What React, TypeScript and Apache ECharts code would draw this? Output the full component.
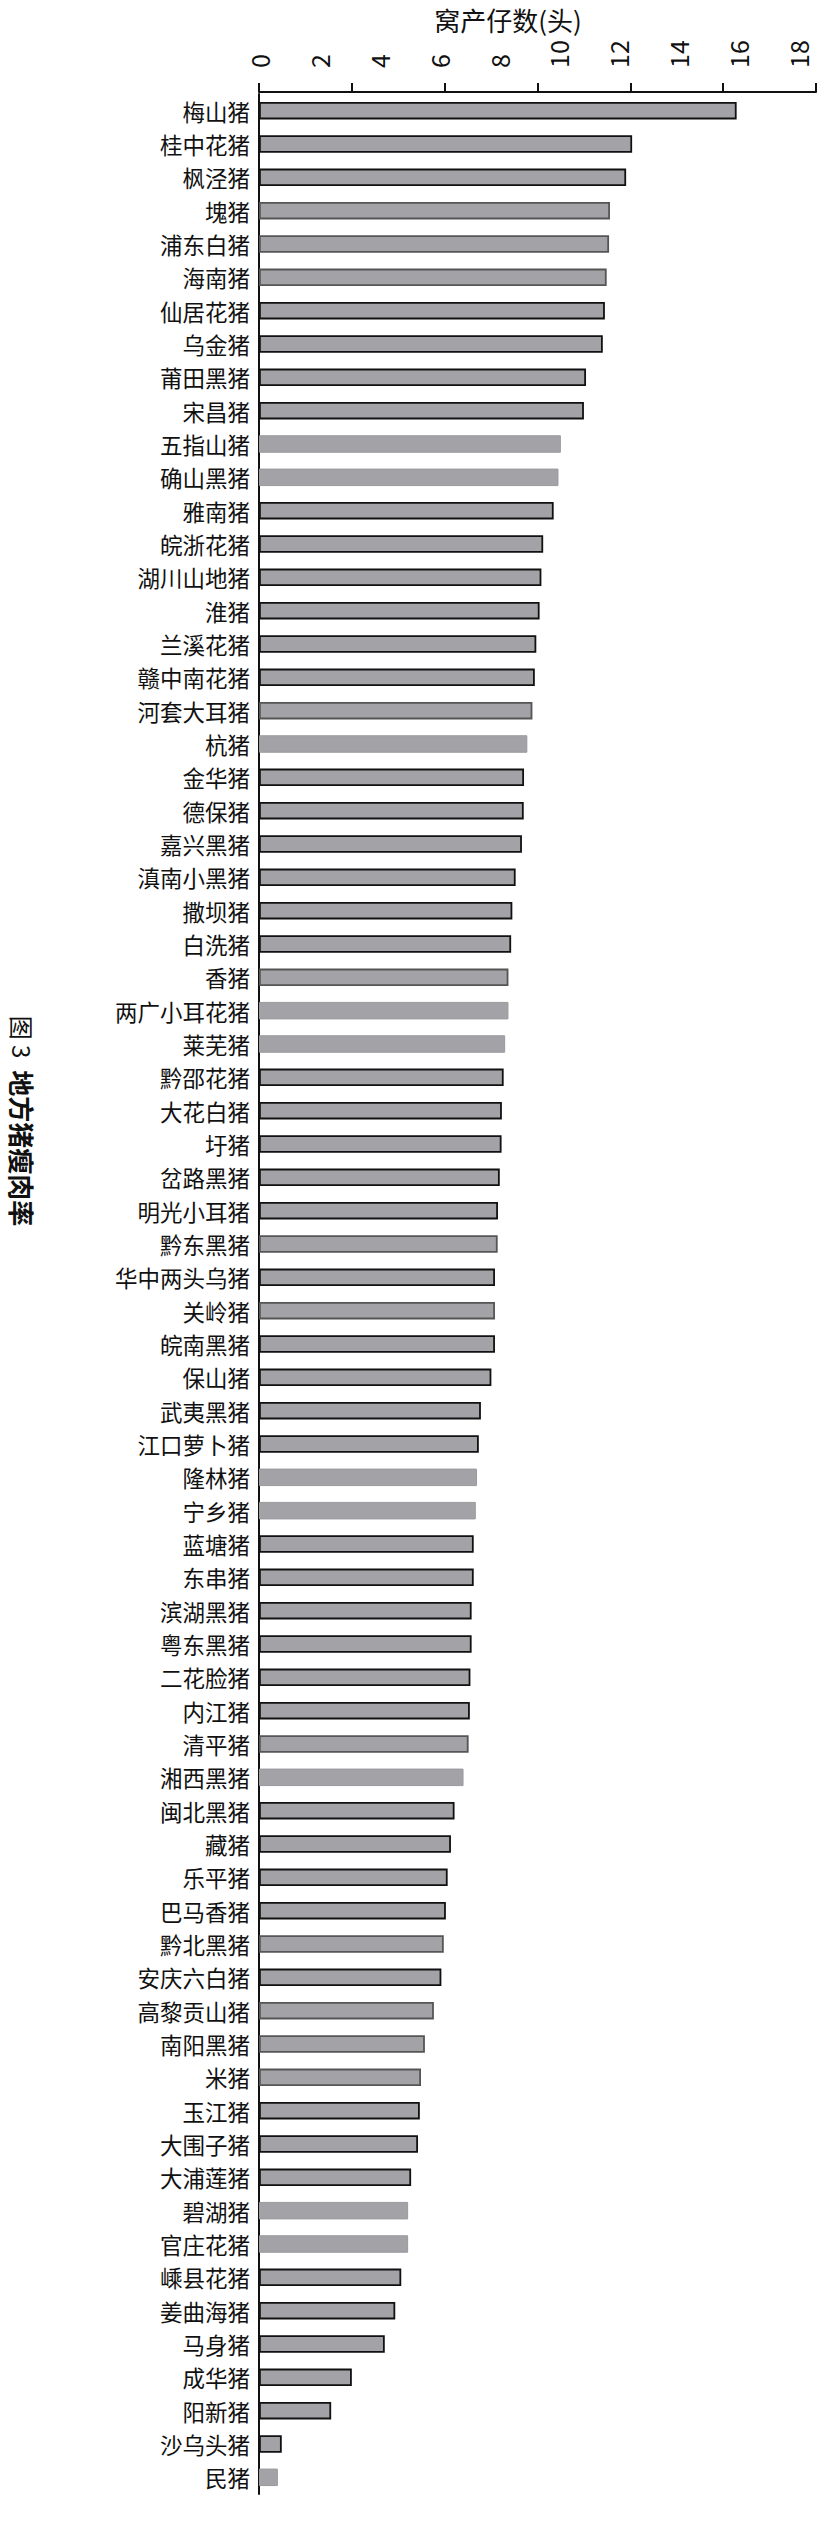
import { useEffect, useRef } from "react";
import * as echarts from "echarts";

// 品种（自上而下）
const breeds = [
  "梅山猪", "桂中花猪", "枫泾猪", "塊猪", "浦东白猪", "海南猪", "仙居花猪", "乌金猪",
  "莆田黑猪", "宋昌猪", "五指山猪", "确山黑猪", "雅南猪", "皖浙花猪", "湖川山地猪", "淮猪",
  "兰溪花猪", "赣中南花猪", "河套大耳猪", "杭猪", "金华猪", "德保猪", "嘉兴黑猪", "滇南小黑猪",
  "撒坝猪", "白洗猪", "香猪", "两广小耳花猪", "莱芜猪", "黔邵花猪", "大花白猪", "圩猪",
  "岔路黑猪", "明光小耳猪", "黔东黑猪", "华中两头乌猪", "关岭猪", "皖南黑猪", "保山猪", "武夷黑猪",
  "江口萝卜猪", "隆林猪", "宁乡猪", "蓝塘猪", "东串猪", "滨湖黑猪", "粤东黑猪", "二花脸猪",
  "内江猪", "清平猪", "湘西黑猪", "闽北黑猪", "藏猪", "乐平猪", "巴马香猪", "黔北黑猪",
  "安庆六白猪", "高黎贡山猪", "南阳黑猪", "米猪", "玉江猪", "大围子猪", "大浦莲猪", "碧湖猪",
  "官庄花猪", "嵊县花猪", "姜曲海猪", "马身猪", "成华猪", "阳新猪", "沙乌头猪", "民猪",
];

// 窝产仔数（头）
const litterSize = [
  15.95, 12.46, 12.26, 11.72, 11.69, 11.61, 11.55, 11.48,
  10.92, 10.85, 10.08, 10.0, 9.84, 9.49, 9.43, 9.37,
  9.26, 9.21, 9.13, 8.96, 8.85, 8.84, 8.78, 8.57,
  8.46, 8.42, 8.33, 8.33, 8.22, 8.17, 8.11, 8.1,
  8.04, 7.98, 7.97, 7.88, 7.88, 7.88, 7.76, 7.41,
  7.34, 7.28, 7.24, 7.17, 7.17, 7.1, 7.1, 7.06,
  7.04, 7.0, 6.83, 6.53, 6.41, 6.3, 6.24, 6.17,
  6.09, 5.84, 5.54, 5.41, 5.37, 5.31, 5.08, 4.98,
  4.98, 4.75, 4.55, 4.2, 3.1, 2.41, 0.76, 0.63,
];

const valueTicks = [0, 2, 4, 6, 8, 10, 12, 14, 16, 18];

const axisTitle = "窝产仔数(头)";
const figureNo = "图 3";
const figureTitle = "地方猪瘦肉率";

// 扫描件里边框发虚的柱子
const noEdgeBars = [
  "五指山猪", "确山黑猪", "杭猪", "两广小耳花猪", "莱芜猪", "隆林猪",
  "宁乡猪", "湘西黑猪", "碧湖猪", "官庄花猪", "民猪",
];
const greyEdgeBars = [
  "塊猪", "浦东白猪", "海南猪", "河套大耳猪", "香猪", "黔东黑猪",
  "关岭猪", "清平猪", "黔北黑猪", "南阳黑猪", "高黎贡山猪", "米猪",
];

const FILL = "#a3a3a7";
const INK = "#111";
const FONT = '"Noto Sans CJK SC", sans-serif';

const App = () => {
  const chartRef = useRef(null);

  useEffect(() => {
    const chart = echarts.init(chartRef.current, null, { renderer: "svg" });

    const gridBox = { left: 259, right: 8, top: 94, bottom: 33 };

    const option: any = {
      animation: false,
      textStyle: { fontFamily: FONT },
      grid: [gridBox, gridBox],
      xAxis: [
        {
          // 刻度文字
          type: "value",
          gridIndex: 0,
          position: "top",
          offset: 2,
          min: 0,
          max: 18.6,
          interval: 2,
          axisLine: { show: false },
          axisTick: { show: false },
          splitLine: { show: false },
          axisLabel: {
            rotate: -90,
            margin: 24,
            fontSize: 25,
            color: INK,
            formatter: (v) => (valueTicks.includes(v) ? String(v) : ""),
          },
        },
        {
          // 轴线与刻度线（原图刻度线与文字并不对齐）
          type: "value",
          gridIndex: 1,
          position: "top",
          offset: 2,
          min: 0,
          max: 6,
          interval: 1,
          axisLine: { show: true, lineStyle: { color: INK, width: 2 } },
          axisTick: { show: true, length: 9, lineStyle: { color: INK, width: 2 } },
          axisLabel: { show: false },
          splitLine: { show: false },
        },
      ],
      yAxis: [
        {
          type: "category",
          gridIndex: 0,
          data: breeds,
          inverse: true,
          axisLine: { show: true, lineStyle: { color: INK, width: 2 } },
          axisTick: { show: false },
          axisLabel: { interval: 0, fontSize: 22.5, color: INK, margin: 9 },
        },
        {
          type: "category",
          gridIndex: 1,
          data: breeds,
          inverse: true,
          show: false,
        },
      ],
      series: [
        {
          type: "bar",
          xAxisIndex: 0,
          yAxisIndex: 0,
          barWidth: 17.5,
          itemStyle: { color: FILL, borderColor: INK, borderWidth: 1.8 },
          data: litterSize.map((v, i) => {
            const name = breeds[i];
            if (noEdgeBars.includes(name)) {
              return { value: v, itemStyle: { borderColor: "#9a9a9e", borderWidth: 1 } };
            }
            if (greyEdgeBars.includes(name)) {
              return { value: v, itemStyle: { borderColor: "#555" } };
            }
            return v;
          }),
        },
      ],
      graphic: [
        {
          type: "text",
          x: 508,
          y: 19.5,
          style: {
            text: axisTitle,
            fontSize: 26,
            fontFamily: FONT,
            fill: INK,
            align: "center",
            verticalAlign: "middle",
            textAlign: "center",
            textVerticalAlign: "middle",
          },
        },
        {
          type: "text",
          x: 22,
          y: 1121,
          rotation: -Math.PI / 2,
          style: {
            text: `{a|${figureNo}}\u3000{b|${figureTitle}}`,
            fontFamily: FONT,
            fill: INK,
            align: "center",
            verticalAlign: "middle",
            textAlign: "center",
            textVerticalAlign: "middle",
            rich: {
              a: { fontSize: 24, fill: INK, fontFamily: FONT },
              b: { fontSize: 26, fontWeight: "bold", fill: INK, fontFamily: FONT },
            },
          },
        },
      ],
    };

    chart.setOption(option);

    return () => {
      chart.dispose();
    };
  }, []);

  return (
    <div
      ref={chartRef}
      style={{ position: "absolute", left: 0, top: 0, width: "824px", height: "2527px" }}
    />
  );
};

export default App;
